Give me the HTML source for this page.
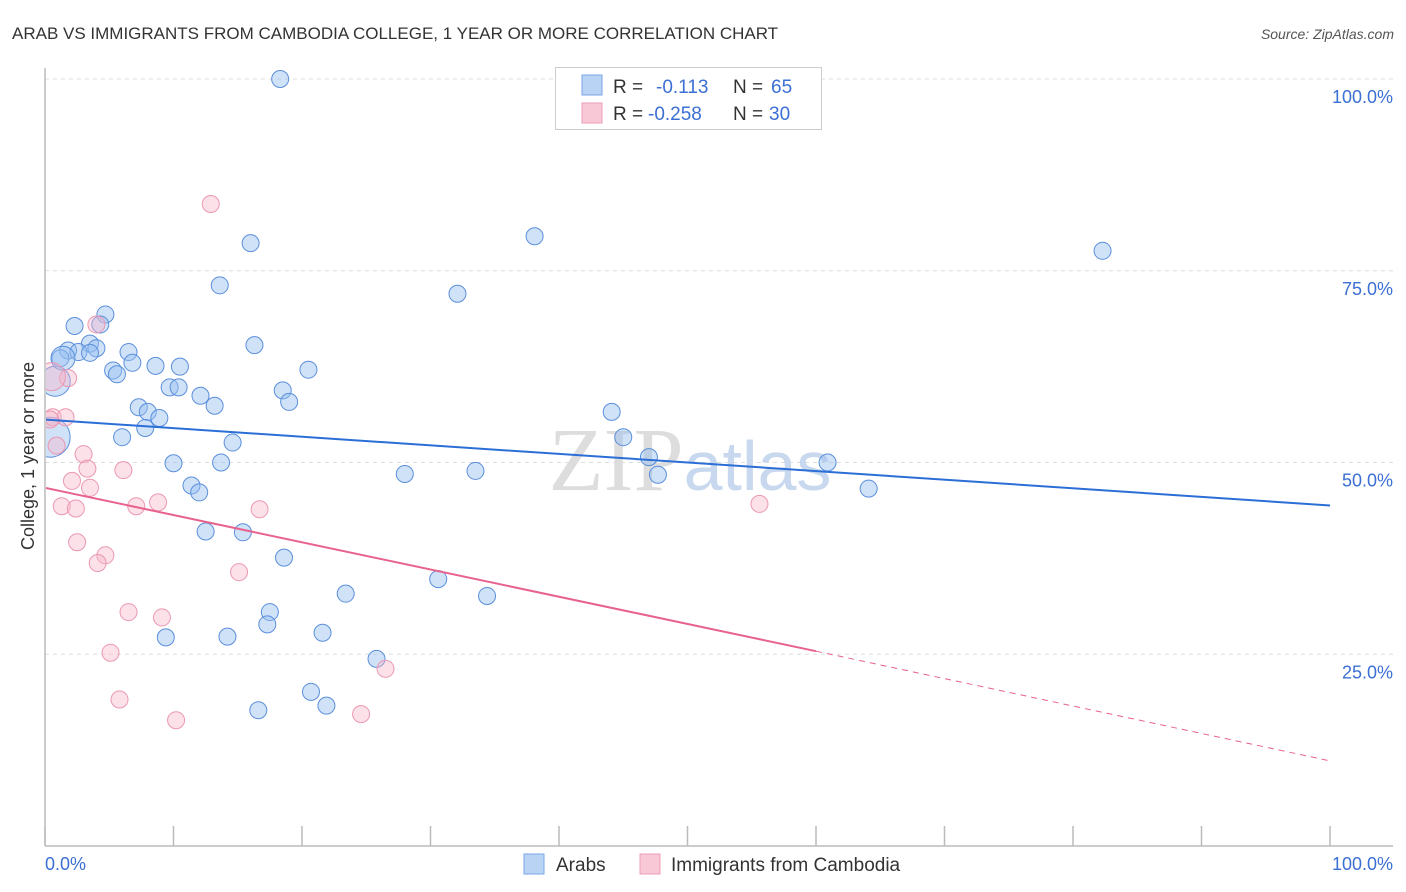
<!DOCTYPE html>
<html><head><meta charset="utf-8"><style>
body{margin:0;background:#fff;font-family:"Liberation Sans",sans-serif}
svg{display:block}
</style></head><body>
<svg width="1406" height="892" xmlns="http://www.w3.org/2000/svg">
<defs><clipPath id="plotclip"><rect x="46" y="60" width="1360" height="786"/></clipPath></defs>
<text x="12" y="39" font-size="17" fill="#333">ARAB VS IMMIGRANTS FROM CAMBODIA COLLEGE, 1 YEAR OR MORE CORRELATION CHART</text>
<text x="1394" y="39" font-size="14" fill="#555" font-style="italic" text-anchor="end">Source: ZipAtlas.com</text>
<g id="grid"></g>
<text x="690" y="490" font-size="90" fill="#ddd" text-anchor="middle" font-family="Liberation Serif,serif">ZIP<tspan fill="#c8d8ee" font-family="Liberation Sans,sans-serif" font-size="70">atlas</tspan></text>
<line x1="45" y1="68" x2="45" y2="846" stroke="#bbb" stroke-width="1.5"/>
<line x1="45" y1="846" x2="1393" y2="846" stroke="#bbb" stroke-width="1.5"/>
<g id="ticks"></g>
<g id="ylabels"></g>
<text x="45" y="870" font-size="18" fill="#3b6fd4">0.0%</text>
<text x="1393" y="870" font-size="18" fill="#3b6fd4" text-anchor="end">100.0%</text>
<text transform="translate(34,456) rotate(-90)" font-size="18" fill="#333" text-anchor="middle">College, 1 year or more</text>
<g id="pts" clip-path="url(#plotclip)"></g>
<g id="lines" clip-path="url(#plotclip)"></g>
<g>
<rect x="555.5" y="67.5" width="266" height="62" fill="#fff" stroke="#ccc"/>
<rect x="582" y="75" width="20" height="20" fill="#b9d3f5" stroke="#7aa6e6"/>
<rect x="582" y="103" width="20" height="20" fill="#f9c8d6" stroke="#ee9db5"/>
<text x="613" y="93" font-size="19" fill="#333">R = </text><text x="656" y="93" font-size="19" fill="#3b6fd4">-0.113</text>
<text x="733" y="93" font-size="19" fill="#333">N = </text><text x="771" y="93" font-size="19" fill="#3b6fd4">65</text>
<text x="613" y="120" font-size="19" fill="#333">R = </text><text x="648" y="120" font-size="19" fill="#3b6fd4">-0.258</text>
<text x="733" y="120" font-size="19" fill="#333">N = </text><text x="769" y="120" font-size="19" fill="#3b6fd4">30</text>
</g>
<g>
<rect x="524" y="854" width="20" height="20" fill="#b9d3f5" stroke="#7aa6e6"/>
<text x="556" y="871" font-size="19" fill="#333">Arabs</text>
<rect x="640" y="854" width="20" height="20" fill="#f9c8d6" stroke="#ee9db5"/>
<text x="671" y="871" font-size="19" fill="#333">Immigrants from Cambodia</text>
</g>
</svg>
<script>
const yTicks=[25,50,75,100];
const yTickLabels=["25.0%","50.0%","75.0%","100.0%"];
const xTicks=[0,10,20,30,40,50,60,70,80,90,100];
const arabsX=[18.3,16,38.1,82.3,13.6,32.1,4.7,2.3,4.3,1.8,3.5,4,2.6,6.5,1.2,16.3,8.6,6.8,10.5,5.3,5.6,9.7,10.4,12.1,18.5,19,20.5,7.3,8,13.2,8.9,7.8,6,14.6,44.1,45,47,10.0,13.7,28,33.5,47.7,60.9,64.1,11.4,12,12.5,15.4,18.6,30.6,34.4,23.4,17.5,17.3,9.4,14.2,21.6,25.8,20.7,21.9,16.6,0.4,0.8,1.4,3.5];
const arabsY=[100,78.6,79.5,77.6,73.1,72,69.3,67.8,68,64.6,65.5,64.9,64.4,64.4,63.6,65.3,62.6,63,62.5,62,61.5,59.8,59.8,58.7,59.4,57.9,62.1,57.2,56.6,57.4,55.8,54.5,53.3,52.6,56.6,53.3,50.7,49.9,50,48.5,48.9,48.4,50,46.6,47,46.1,41,40.9,37.6,34.8,32.6,32.9,30.5,28.9,27.2,27.3,27.8,24.4,20.1,18.3,17.7,53.3,60.6,63.6,64.3];
const cambX=[12.9,4,1.8,0.5,0.6,1.6,0.9,3,3.3,3.5,2.1,6.1,1.3,2.4,7.1,8.8,16.7,2.5,4.7,4.1,15.1,6.5,9.1,5.1,26.5,5.8,24.6,10.2,55.6,0.4];
const cambY=[83.7,68,61,61.2,55.9,55.9,52.2,51.1,49.2,46.7,47.6,49,44.3,44,44.3,44.8,43.9,39.6,37.9,36.9,35.7,30.5,29.8,25.2,23.1,19.1,17.2,16.4,44.6,55.6];
const trendArabs=[55.6,44.4];
const trendCamb=[46.7,25.4,11.1];
const X=v=>45+v/100*1285, Y=v=>846-v/100*767;
const NS="http://www.w3.org/2000/svg";
function mk(t,a,p){const e=document.createElementNS(NS,t);for(const k in a)e.setAttribute(k,a[k]);document.getElementById(p).appendChild(e);return e;}
yTicks.forEach((v,i)=>{
 const l=mk('line',{x1:45,x2:1393,y1:Y(v),y2:Y(v),stroke:'#ddd','stroke-dasharray':'4,4'},'grid');
 
 
 const t=mk('text',{x:1393,y:Y(v)+24,'font-size':18,fill:'#3b6fd4','text-anchor':'end'},'ylabels');
 t.textContent=yTickLabels[i];
 
 
});
xTicks.forEach(v=>{
 const l=mk('line',{x1:X(v),x2:X(v),y1:826,y2:846,stroke:'#bbb','stroke-width':1.5},'ticks');
 
 
});
const big={61:20,62:15,63:12};
arabsX.forEach((v,i)=>{
 const c=mk('circle',{cx:X(v),cy:Y(arabsY[i]),r:big[i]||8.5,fill:'rgba(150,190,240,0.45)',stroke:'#5b8fdc','stroke-width':1},'pts');
 
 
});
cambX.forEach((v,i)=>{
 const c=mk('circle',{cx:X(v),cy:Y(cambY[i]),r:i==3?14:8.5,fill:'rgba(247,180,200,0.4)',stroke:'#eb98b2','stroke-width':1},'pts');
 
 
});
let l=mk('line',{x1:X(0),y1:Y(trendArabs[0]),x2:X(100),y2:Y(trendArabs[1]),stroke:'#2b6ed6','stroke-width':2},'lines');


l=mk('line',{x1:X(0),y1:Y(trendCamb[0]),x2:X(60),y2:Y(trendCamb[1]),stroke:'#e8628e','stroke-width':2},'lines');


l=mk('line',{x1:X(60),y1:Y(trendCamb[1]),x2:X(100),y2:Y(trendCamb[2]),stroke:'#e8628e','stroke-width':1,'stroke-dasharray':'6,5'},'lines');


</script>
</body></html>
